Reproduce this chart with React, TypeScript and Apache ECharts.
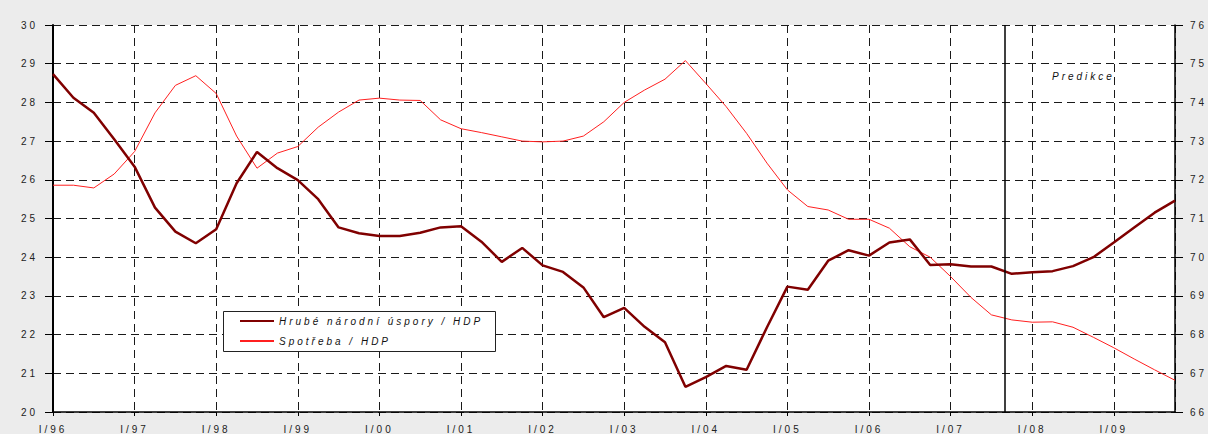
import React, { useEffect, useRef } from "react";
import * as echarts from "echarts";

// quarterly data, I/96 .. IV/09 (index 0..55)
const yearTicks = ["I/96", "I/97", "I/98", "I/99", "I/00", "I/01", "I/02", "I/03", "I/04", "I/05", "I/06", "I/07", "I/08", "I/09"];
const savingsName = "Hrubé národní úspory / HDP";
const consumptionName = "Spotřeba / HDP";
const savings = [
  28.73, 28.12, 27.73, 27.05, 26.34, 25.28, 24.66, 24.36, 24.72, 25.91, 26.72, 26.3, 25.99, 25.5,
  24.77, 24.62, 24.55, 24.55, 24.63, 24.77, 24.8, 24.4, 23.88, 24.24, 23.79, 23.62, 23.22, 22.45,
  22.69, 22.2, 21.8, 20.65, 20.9, 21.19, 21.09, 22.19, 23.24, 23.16, 23.91, 24.18, 24.04, 24.38,
  24.46, 23.8, 23.82, 23.76, 23.76, 23.57, 23.61, 23.64, 23.77, 24.0, 24.38, 24.77, 25.15, 25.46,
];
const consumption = [
  71.86, 71.86, 71.79, 72.15, 72.73, 73.73, 74.44, 74.69, 74.23, 73.13, 72.3, 72.69, 72.86, 73.36,
  73.75, 74.06, 74.11, 74.06, 74.05, 73.55, 73.32, 73.22, 73.11, 73.0, 72.98, 73.0, 73.13, 73.5,
  74.0, 74.32, 74.6, 75.08, 74.49, 73.89, 73.2, 72.43, 71.74, 71.31, 71.22, 70.98, 70.98, 70.75,
  70.27, 70.0, 69.5, 68.96, 68.51, 68.38, 68.32, 68.33, 68.19, 67.93, 67.66, 67.37, 67.09, 66.82,
];
const predictionStart = 46.67; // quarter index where the forecast begins
const predictionLabel = "Predikce";

const FONT = "'Liberation Sans', Arial, sans-serif";

export default function App() {
  const ref = useRef<HTMLDivElement>(null);
  useEffect(() => {
    document.body.style.margin = "0";
    const chart = echarts.init(ref.current!, null, { renderer: "svg" });
    const gridDash = { color: "#1a1a1a", width: 1, type: [8, 5] as any };
    chart.setOption({
      animation: false,
      backgroundColor: "transparent",
      textStyle: { fontFamily: FONT },
      grid: {
        left: 53,
        right: 33,
        top: 25,
        bottom: 22,
        show: true,
        backgroundColor: "#ffffff",
        borderWidth: 0,
      },
      legend: {
        orient: "vertical",
        left: 239,
        top: 316,
        itemWidth: 34,
        itemHeight: 10,
        itemGap: 10,
        padding: 0,
        z: 10,
        itemStyle: { opacity: 0 },
        textStyle: { fontSize: 10, fontStyle: "italic", color: "#111", fontFamily: FONT },
        data: [savingsName, consumptionName],
      },
      graphic: [
        {
          type: "rect",
          z: 5,
          shape: { x: 223.5, y: 311.5, width: 272, height: 40 },
          style: { fill: "#ffffff", stroke: "#222", lineWidth: 1 },
        },
        {
          type: "text",
          z: 5,
          left: 1052,
          top: 71,
          style: { text: predictionLabel, fill: "#111", font: "italic 10px " + FONT },
        },
      ],
      xAxis: {
        type: "value",
        min: 0,
        max: savings.length - 1,
        interval: 4,
        axisLine: { show: true, onZero: false, lineStyle: { color: "#000", width: 1.5 } },
        axisTick: { show: true, length: 4, lineStyle: { color: "#000" } },
        axisLabel: {
          fontSize: 10,
          color: "#222",
          margin: 12,
          showMaxLabel: false,
          formatter: (v: number) => (v % 4 === 0 ? yearTicks[Math.round(v / 4)] ?? "" : ""),
        },
        splitLine: { show: true, lineStyle: gridDash },
      },
      yAxis: [
        {
          type: "value",
          min: 20,
          max: 30,
          interval: 1,
          position: "left",
          axisLine: { show: true, lineStyle: { color: "#000", width: 2 } },
          axisTick: { show: true, inside: false, length: 8, lineStyle: { color: "#000" } },
          axisLabel: { fontSize: 10, color: "#222", margin: 15 },
          splitLine: { show: true, lineStyle: gridDash },
        },
        {
          type: "value",
          min: 66,
          max: 76,
          interval: 1,
          position: "right",
          axisLine: { show: true, lineStyle: { color: "#000", width: 1.5 } },
          axisTick: { show: true, inside: false, length: 8, lineStyle: { color: "#000" } },
          axisLabel: { fontSize: 10, color: "#222", margin: 15 },
          splitLine: { show: false },
        },
      ],
      series: [
        {
          name: savingsName,
          type: "line",
          yAxisIndex: 0,
          symbol: "none",
          showSymbol: false,
          color: "#800000",
          lineStyle: { color: "#800000", width: 2.5 },
          data: savings.map((v, i) => [i, v]),
          markLine: {
            silent: true,
            symbol: "none",
            label: { show: false },
            lineStyle: { color: "#000", type: "solid", width: 1.5 },
            data: [{ xAxis: predictionStart }],
          },
          z: 3,
        },
        {
          name: consumptionName,
          type: "line",
          yAxisIndex: 1,
          symbol: "none",
          showSymbol: false,
          color: "#ff2020",
          lineStyle: { color: "#ff2020", width: 1 },
          data: consumption.map((v, i) => [i, v]),
          z: 2,
        },
      ],
    });
    return () => chart.dispose();
  }, []);
  return (
    <div
      ref={ref}
      style={{
        width: 1208,
        height: 434,
        background: "#ececec",
        letterSpacing: "3px",
      }}
    />
  );
}
